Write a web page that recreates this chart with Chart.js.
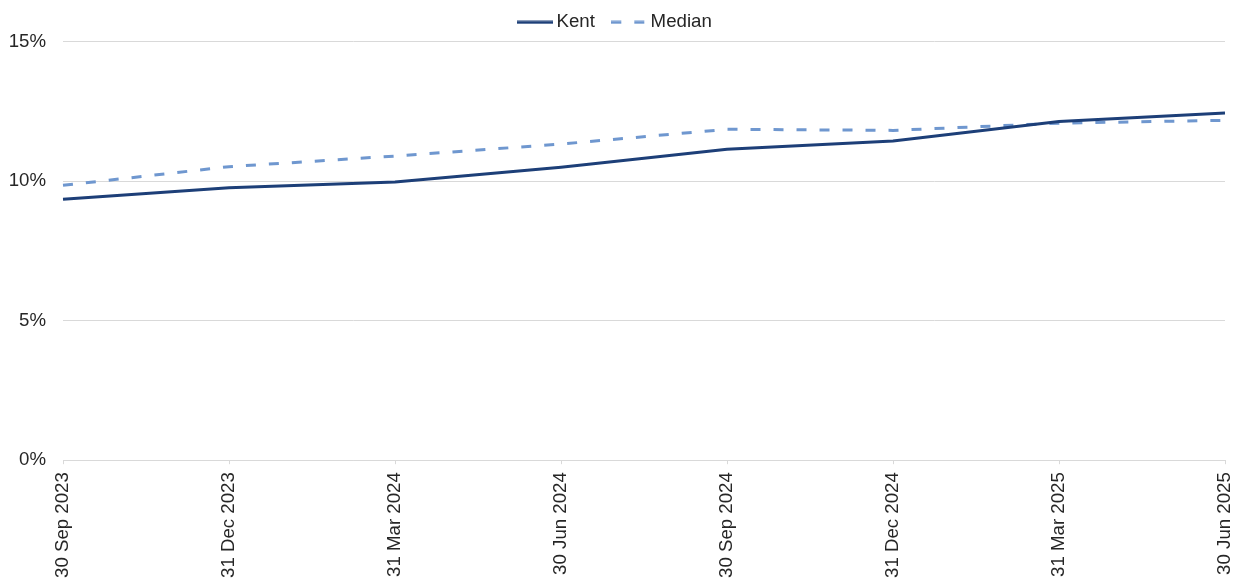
<!DOCTYPE html>
<html>
<head>
<meta charset="utf-8">
<script src="https://cdn.jsdelivr.net/npm/chart.js@4/dist/chart.umd.min.js"></script>
<style>
  html, body { margin: 0; padding: 0; background: #fff; overflow: hidden; }
  #wrap { position: relative; width: 1246px; height: 586px; }
</style>
</head>
<body>
<div id="wrap"><canvas id="chart"></canvas></div>
<script>
// Quarter-end dates on the x axis
const quarters = ['30 Sep 2023', '31 Dec 2023', '31 Mar 2024', '30 Jun 2024',
                  '30 Sep 2024', '31 Dec 2024', '31 Mar 2025', '30 Jun 2025'];

// Values in percent
const kentValues   = [9.35, 9.76, 9.97, 10.50, 11.14, 11.44, 12.14, 12.44];
const medianValues = [9.85, 10.52, 10.90, 11.33, 11.86, 11.82, 12.08, 12.18];

const yTicks = [0, 5, 10, 15];

const FONT = "'Liberation Sans', Arial, sans-serif";
const FONT_SIZE = 18.67;
const TEXT = '#262626';
const GRID = '#d9d9d9';

// little line samples for the legend (solid / dashed)
function legendLine(color, dash) {
  const c = document.createElement('canvas');
  c.width = 36;
  c.height = 4;
  const g = c.getContext('2d');
  g.strokeStyle = color;
  g.lineWidth = 3;
  g.setLineDash(dash);
  g.beginPath();
  g.moveTo(0, 2);
  g.lineTo(36, 2);
  g.stroke();
  return c;
}

new Chart(document.getElementById('chart'), {
  type: 'line',
  data: {
    labels: quarters,
    datasets: [
      {
        label: 'Kent',
        data: kentValues,
        borderColor: '#1d3f78',
        backgroundColor: '#1d3f78',
        borderWidth: 3,
        pointRadius: 0,
        tension: 0
      },
      {
        label: 'Median',
        data: medianValues,
        borderColor: '#6f97cf',
        backgroundColor: '#6f97cf',
        borderWidth: 3,
        borderDash: [10, 13],
        pointRadius: 0,
        tension: 0
      }
    ]
  },
  options: {
    responsive: true,
    maintainAspectRatio: false,
    animation: false,
    layout: { padding: { left: 10, right: 21, top: 1, bottom: 0 } },
    plugins: {
      legend: {
        position: 'top',
        labels: {
          usePointStyle: true,
          pointStyleWidth: 24,
          boxHeight: 18,
          color: TEXT,
          font: { family: FONT, size: FONT_SIZE },
          padding: 12,
          generateLabels: chart => {
            const items = Chart.defaults.plugins.legend.labels.generateLabels(chart);
            items.forEach((it, i) => {
              const ds = chart.data.datasets[i];
              it.pointStyle = legendLine(ds.borderColor, ds.borderDash || []);
              // extra room after the first entry, as in the source legend
              if (i === 0) it.text = it.text + '  ';
            });
            return items;
          }
        }
      },
      tooltip: { enabled: false }
    },
    scales: {
      x: {
        afterFit: axis => { axis.paddingLeft = 0; axis.paddingRight = 0; },
        grid: { drawOnChartArea: false, drawTicks: true, tickLength: 4, color: GRID },
        border: { display: true, color: GRID },
        ticks: {
          color: TEXT,
          font: { family: FONT, size: FONT_SIZE },
          minRotation: 90,
          maxRotation: 90,
          padding: 8,
          autoSkip: false
        }
      },
      y: {
        min: 0,
        max: 15,
        afterBuildTicks: axis => { axis.ticks = yTicks.map(v => ({ value: v })); },
        afterFit: axis => { axis.width = 53; },
        grid: { color: GRID, drawTicks: false },
        border: { display: false },
        ticks: {
          color: TEXT,
          font: { family: FONT, size: FONT_SIZE },
          padding: 17,
          callback: v => v + '%'
        }
      }
    }
  }
});
</script>
</body>
</html>
